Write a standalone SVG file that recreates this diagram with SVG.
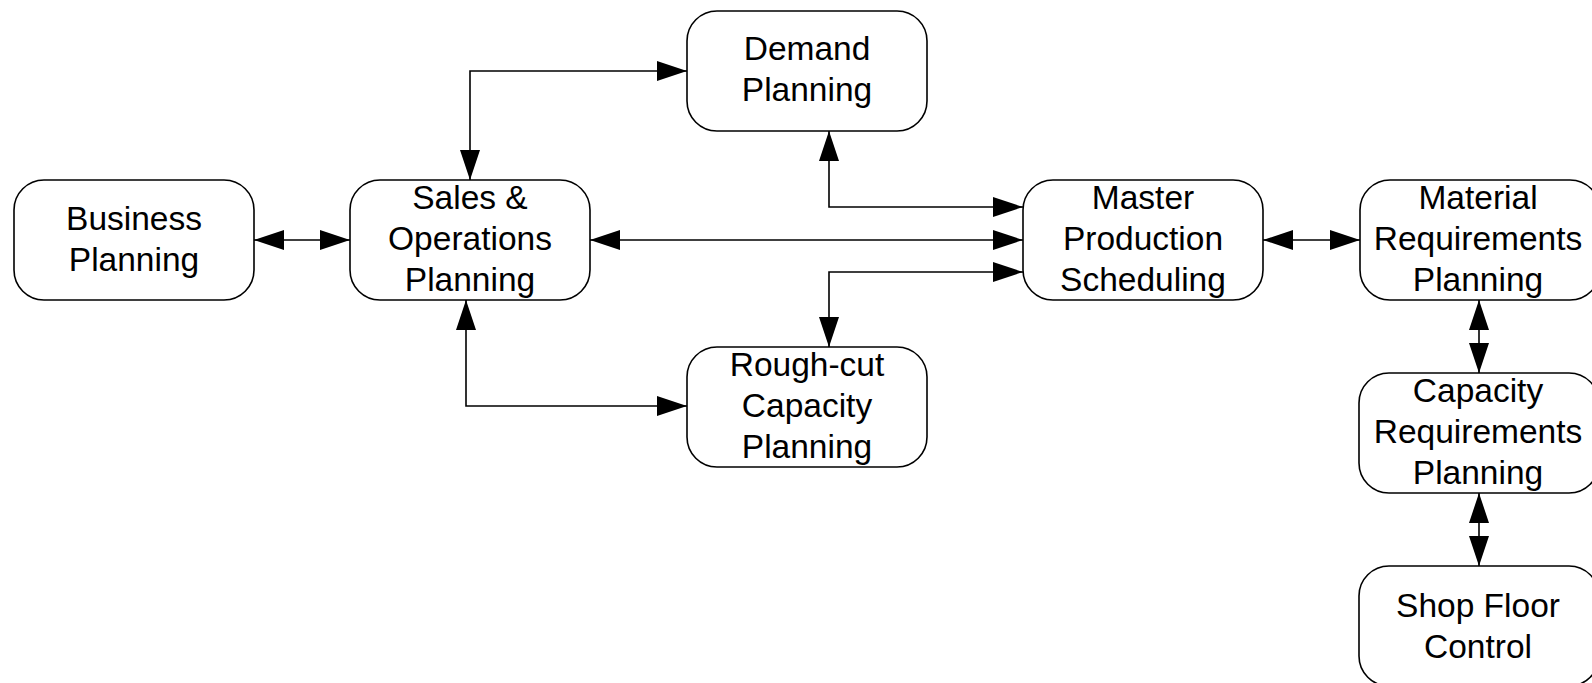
<svg xmlns="http://www.w3.org/2000/svg" width="1592" height="683" viewBox="0 0 1592 683">
  <style>
    .box { fill: #ffffff; stroke: #000000; stroke-width: 1.6; }
    .lbl { font-family: "Liberation Sans", Arial, sans-serif; font-size: 33.5px; fill: #000000; text-anchor: middle; }
    .wire { fill: none; stroke: #000000; stroke-width: 1.6; marker-start: url(#head); marker-end: url(#head); }
  </style>
  <defs>
    <marker id="head" viewBox="0 0 30 20" refX="30" refY="10" markerWidth="30" markerHeight="20" markerUnits="userSpaceOnUse" orient="auto-start-reverse">
      <path d="M0,0 L30,10 L0,20 Z" fill="#000000"/>
    </marker>
  </defs>
  <rect width="1592" height="683" fill="#ffffff"/>

  <g id="connectors">
    <path class="wire" d="M254,240 H350"/>
    <path class="wire" d="M590,240 H1023"/>
    <path class="wire" d="M470,180 V71 H687"/>
    <path class="wire" d="M829,131 V207 H1023"/>
    <path class="wire" d="M1023,272 H829 V347"/>
    <path class="wire" d="M466,300 V406 H687"/>
    <path class="wire" d="M1263,240 H1360"/>
    <path class="wire" d="M1479,300 V373"/>
    <path class="wire" d="M1479,493 V566"/>
  </g>

  <g id="business-planning">
    <rect class="box" x="14" y="180" width="240" height="120" rx="30"/>
    <text class="lbl" x="134" y="230">Business</text>
    <text class="lbl" x="134" y="271">Planning</text>
  </g>

  <g id="sales-operations-planning">
    <rect class="box" x="350" y="180" width="240" height="120" rx="30"/>
    <text class="lbl" x="470" y="209">Sales &amp;</text>
    <text class="lbl" x="470" y="250">Operations</text>
    <text class="lbl" x="470" y="291">Planning</text>
  </g>

  <g id="demand-planning">
    <rect class="box" x="687" y="11" width="240" height="120" rx="30"/>
    <text class="lbl" x="807" y="60">Demand</text>
    <text class="lbl" x="807" y="101">Planning</text>
  </g>

  <g id="master-production-scheduling">
    <rect class="box" x="1023" y="180" width="240" height="120" rx="30"/>
    <text class="lbl" x="1143" y="209">Master</text>
    <text class="lbl" x="1143" y="250">Production</text>
    <text class="lbl" x="1143" y="291">Scheduling</text>
  </g>

  <g id="rough-cut-capacity-planning">
    <rect class="box" x="687" y="347" width="240" height="120" rx="30"/>
    <text class="lbl" x="807" y="376">Rough-cut</text>
    <text class="lbl" x="807" y="417">Capacity</text>
    <text class="lbl" x="807" y="458">Planning</text>
  </g>

  <g id="material-requirements-planning">
    <rect class="box" x="1360" y="180" width="240" height="120" rx="30"/>
    <text class="lbl" x="1478" y="209">Material</text>
    <text class="lbl" x="1478" y="250">Requirements</text>
    <text class="lbl" x="1478" y="291">Planning</text>
  </g>

  <g id="capacity-requirements-planning">
    <rect class="box" x="1359" y="373" width="240" height="120" rx="30"/>
    <text class="lbl" x="1478" y="402">Capacity</text>
    <text class="lbl" x="1478" y="443">Requirements</text>
    <text class="lbl" x="1478" y="484">Planning</text>
  </g>

  <g id="shop-floor-control">
    <rect class="box" x="1359" y="566" width="240" height="120" rx="30"/>
    <text class="lbl" x="1478" y="617">Shop Floor</text>
    <text class="lbl" x="1478" y="658">Control</text>
  </g>
</svg>
